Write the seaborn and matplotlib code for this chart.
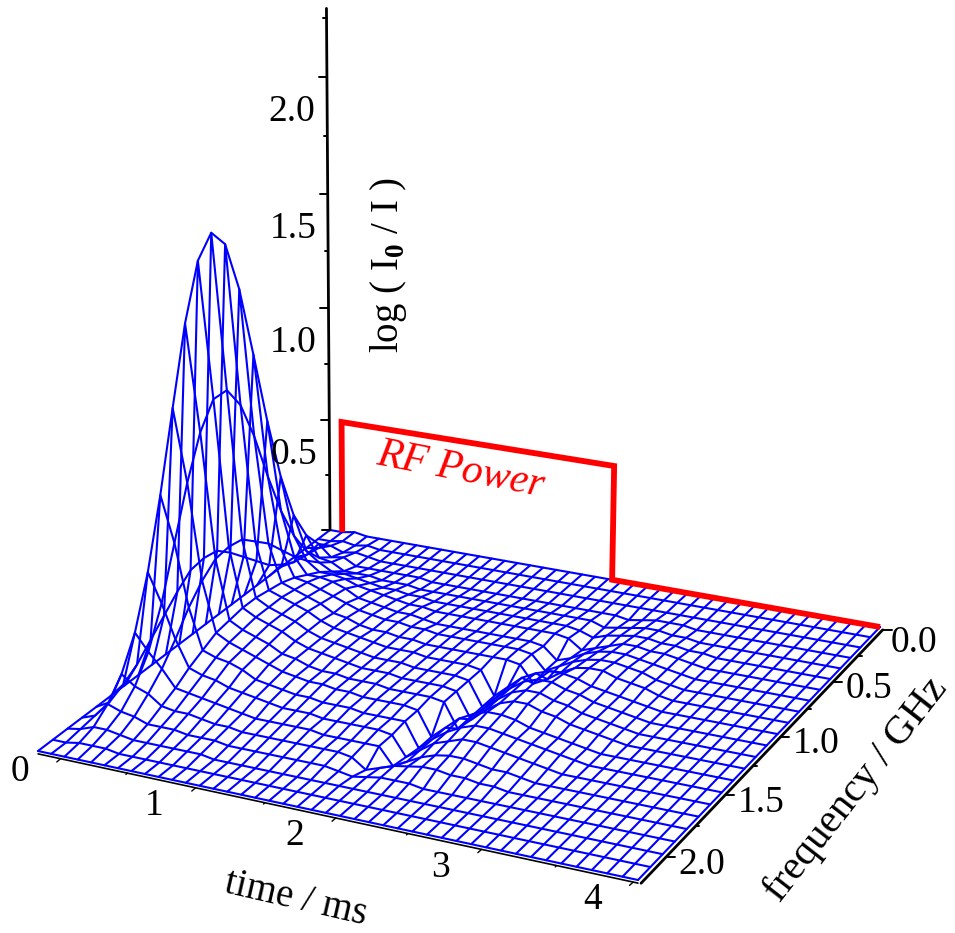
import numpy as np
import pandas as pd
import seaborn as sns
import matplotlib.pyplot as plt

# Data
times = [-0.17, -0.07, 0.03, 0.13, 0.23, 0.33, 0.43, 0.53, 0.63, 0.73, 0.83, 0.93, 1.03, 1.13,
         1.23, 1.33, 1.43, 1.53, 1.63, 1.73, 1.83, 1.93, 2.03, 2.13, 2.23, 2.33, 2.43, 2.53,
         2.63, 2.73, 2.83, 2.93, 3.03, 3.13, 3.23, 3.33, 3.43, 3.53, 3.63, 3.73, 3.83, 3.93, 4.03]
freqs = [0.0, 0.1, 0.2, 0.3, 0.4, 0.5, 0.6, 0.7, 0.8, 0.9, 1.0, 1.1,
         1.2, 1.3, 1.4, 1.5, 1.6, 1.7, 1.8, 1.9, 2.0, 2.1, 2.2]

# log(I0/I), one row per frequency, one column per time
absorbance = [
    [0, 0, .01, 0, 0, 0, 0, 0, 0, 0, 0, 0, 0, 0,
     0, 0, 0, 0, 0, 0, 0, 0, 0, 0, 0, 0, 0, 0, 0, 0, 0, 0, 0, 0, 0, 0, 0, 0, 0, 0, 0, 0, 0],
    [0, 0, .01, 0, .01, 0, 0, 0, 0, 0, 0, 0, 0, 0,
     0, 0, 0, 0, 0, 0, 0, 0, 0, 0, 0, 0, 0, 0, 0, 0, 0, 0, 0, 0, 0, 0, 0, 0, 0, 0, 0, 0, 0],
    [0, .01, .03, .01, .02, .01, 0, 0, 0, 0, 0, 0, 0, 0,
     0, 0, 0, 0, 0, 0, 0, 0, 0, 0, 0, 0, 0, 0, 0, 0, 0, 0, 0, 0, 0, 0, 0, 0, 0, 0, 0, 0, 0],
    [0, .02, .08, .03, .04, .01, .01, .01, .01, .01, .01, 0, 0, 0,
     0, 0, 0, 0, 0, 0, 0, 0, 0, 0, 0, 0, -.01, 0, .01, .01, .01, 0, 0, 0, 0, 0, 0, 0, 0, 0, 0, 0, 0],
    [0, .03, .16, .07, .06, .03, .03, .03, .02, .02, .02, .01, .01, .01,
     .01, .01, .01, .01, .01, .01, .01, .01, .01, .01, .01, -.01, 0, .01, .02, .02, .01, .01, 0, 0, 0, 0, 0, 0, 0, 0, 0, 0, 0],
    [0, .06, .29, .14, .10, .07, .07, .06, .05, .04, .04, .03, .03, .02,
     .02, .02, .02, .02, .02, .02, .02, .02, .02, .02, .01, -.01, .01, .02, .03, .03, .02, .02, .01, .01, 0, 0, 0, 0, 0, 0, 0, 0, 0],
    [0, .10, .50, .25, .15, .11, .11, .10, .08, .07, .06, .05, .04, .04,
     .03, .03, .03, .03, .03, .03, .03, .03, .03, .03, .02, -.02, 0, .02, .04, .04, .03, .03, .02, .01, 0, 0, 0, 0, 0, 0, 0, 0, 0],
    [0, .16, .78, .40, .21, .14, .14, .13, .11, .08, .07, .06, .05, .05,
     .04, .03, .03, .03, .03, .03, .03, .03, .03, .02, -.03, -.01, .02, .04, .05, .05, .04, .03, .02, .01, 0, 0, 0, 0, 0, 0, 0, 0, 0],
    [0, .22, 1.10, .59, .28, .17, .16, .14, .12, .10, .08, .07, .06, .06,
     .05, .05, .04, .04, .04, .04, .04, .04, .04, .03, -.03, 0, .03, .05, .06, .06, .05, .04, .02, .01, 0, 0, 0, 0, 0, 0, 0, 0, 0],
    [0, .28, 1.41, .80, .35, .19, .17, .15, .13, .10, .09, .07, .06, .06,
     .05, .05, .04, .04, .04, .04, .04, .04, .04, .03, -.04, -.01, .03, .06, .07, .07, .05, .04, .03, .01, 0, 0, 0, 0, 0, 0, 0, 0, 0],
    [0, .33, 1.63, .97, .40, .20, .18, .16, .14, .11, .09, .08, .07, .06,
     .05, .05, .05, .04, .04, .04, .04, .03, -.07, -.02, .03, .06, .08, .08, .07, .05, .04, .03, .02, .01, 0, 0, 0, 0, 0, 0, 0, 0, 0],
    [0, .34, 1.71, 1.07, .45, .21, .18, .16, .14, .11, .09, .08, .07, .06,
     .05, .05, .05, .04, .04, .04, .04, .03, -.07, -.02, .03, .07, .09, .09, .07, .06, .04, .03, .02, .01, 0, 0, 0, 0, 0, 0, 0, 0, 0],
    [0, .33, 1.63, 1.07, .46, .21, .18, .16, .14, .11, .09, .08, .07, .06,
     .05, .05, .05, .04, .04, .04, .04, .03, -.07, -.02, .03, .07, .09, .09, .07, .06, .04, .03, .02, .01, 0, 0, 0, 0, 0, 0, 0, 0, 0],
    [0, .28, 1.41, .97, .45, .20, .17, .15, .13, .10, .09, .07, .06, .06,
     .05, .05, .05, .04, .04, .04, .04, .03, -.07, -.02, .03, .07, .09, .09, .07, .06, .04, .03, .02, .01, 0, 0, 0, 0, 0, 0, 0, 0, 0],
    [0, .22, 1.10, .80, .40, .19, .16, .14, .12, .10, .08, .07, .06, .06,
     .05, .05, .04, .04, .04, .04, .03, -.07, -.02, .03, .06, .08, .08, .07, .05, .04, .03, .02, .01, 0, 0, 0, 0, 0, 0, 0, 0, 0, 0],
    [0, .16, .78, .59, .33, .16, .14, .13, .11, .08, .07, .06, .05, .05,
     .04, .04, .04, .03, .03, .03, .03, -.07, -.02, .02, .05, .07, .07, .06, .05, .04, .03, .02, .01, 0, 0, 0, 0, 0, 0, 0, 0, 0, 0],
    [0, .10, .50, .38, .24, .13, .11, .10, .08, .07, .06, .05, .04, .04,
     .04, .03, .03, .03, .03, .03, .02, -.06, -.02, .02, .04, .06, .06, .05, .04, .03, .02, .01, 0, 0, 0, 0, 0, 0, 0, 0, 0, 0, 0],
    [0, .06, .29, .22, .16, .09, .08, .07, .06, .05, .04, .03, .03, .03,
     .03, .03, .02, .02, .02, .02, .02, -.05, -.02, .01, .03, .04, .04, .03, .02, .02, .01, 0, 0, 0, 0, 0, 0, 0, 0, 0, 0, 0, 0],
    [0, .03, .16, .12, .10, .06, .05, .05, .04, .03, .03, .02, .02, .02,
     .02, .02, .02, .02, .02, .01, -.03, -.01, .01, .02, .03, .03, .02, .02, .01, .01, 0, 0, 0, 0, 0, 0, 0, 0, 0, 0, 0, 0, 0],
    [0, .02, .08, .06, .05, .03, .03, .03, .02, .02, .02, .01, .01, .01,
     .01, .01, .01, .01, .01, 0, -.01, 0, .01, .01, .01, 0, 0, 0, 0, 0, 0, 0, 0, 0, 0, 0, 0, 0, 0, 0, 0, 0, 0],
    [0, .01, .03, .03, .02, .01, .01, .01, .01, .01, .01, 0, 0, 0,
     0, 0, 0, 0, 0, 0, 0, 0, 0, 0, 0, 0, 0, 0, 0, 0, 0, 0, 0, 0, 0, 0, 0, 0, 0, 0, 0, 0, 0],
    [0, 0, .01, .01, .01, 0, 0, 0, 0, 0, 0, 0, 0, 0,
     0, 0, 0, 0, 0, 0, 0, 0, 0, 0, 0, 0, 0, 0, 0, 0, 0, 0, 0, 0, 0, 0, 0, 0, 0, 0, 0, 0, 0],
    [0, 0, 0, 0, 0, 0, 0, 0, 0, 0, 0, 0, 0, 0,
     0, 0, 0, 0, 0, 0, 0, 0, 0, 0, 0, 0, 0, 0, 0, 0, 0, 0, 0, 0, 0, 0, 0, 0, 0, 0, 0, 0, 0],
]

# RF power trace, drawn on the back edge of the surface
rf_time = [-0.07, -0.07, 2.06, 2.06, 4.03]
rf_level = [0.0, 0.5, 0.5, 0.0, 0.0]

time_ticks = [0, 1, 2, 3, 4]
time_minor = [0.5, 1.5, 2.5, 3.5]
freq_ticks = [0.0, 0.5, 1.0, 1.5, 2.0]
freq_minor = [0.25, 0.75, 1.25, 1.75]
z_ticks = [0.0, 0.5, 1.0, 1.5, 2.0]
z_minor = [0.25, 0.75, 1.25, 1.75, 2.25]

times = np.array(times)
freqs = np.array(freqs)
Z = np.array(absorbance, dtype=float)

# Perspective view: where the floor corners and the top of the z axis land, in pixels
floor_data = [(-0.17, 0.0), (4.03, 0.0), (4.03, 2.2), (-0.17, 2.2)]
floor_px = [(330, 530), (880, 627), (638, 880), (38, 751)]
A, b = [], []
for (t, f), (px, py) in zip(floor_data, floor_px):
    A.append([t, f, 1, 0, 0, 0, -px * t, -px * f])
    A.append([0, 0, 0, t, f, 1, -py * t, -py * f])
    b += [px, py]
H = np.append(np.linalg.solve(np.array(A, float), np.array(b, float)), 1).reshape(3, 3)
w0 = H[2] @ [-0.17, 0.0, 1]
z_w = -0.019 * w0
z_col = np.array([w0 * (329 * 0.962 - 332) / 2, w0 * (75 * 0.962 - 528) / 2, z_w])


def project(t, f, z):
    t, f, z = np.broadcast_arrays(np.asarray(t, float), np.asarray(f, float), np.asarray(z, float))
    h = np.stack([t, f, np.ones_like(t)])
    out = H @ h.reshape(3, -1) + np.outer(z_col, z.ravel())
    return (out[0] / out[2]).reshape(t.shape), (out[1] / out[2]).reshape(t.shape)


# One row per mesh vertex, grouped into the mesh lines
T, F = np.meshgrid(times, freqs)
PX, PY = project(T, F, Z)
rows = []
for i in range(len(freqs)):
    rows.append(pd.DataFrame({'px': PX[i], 'py': PY[i], 'line': f'f{i}'}))
for j in range(len(times)):
    rows.append(pd.DataFrame({'px': PX[:, j], 'py': PY[:, j], 'line': f't{j}'}))
mesh = pd.concat(rows, ignore_index=True)

sns.set_theme(style='white')
plt.rcParams['font.family'] = ['Liberation Serif', 'DejaVu Serif']
plt.rcParams['text.color'] = 'black'
plt.rcParams['mathtext.fontset'] = 'custom'
plt.rcParams['mathtext.rm'] = 'Liberation Serif'
plt.rcParams['mathtext.bf'] = 'Liberation Serif:bold'

fig = plt.figure(figsize=(9.55, 9.33), dpi=100)
ax = fig.add_axes([0, 0, 1, 1])

# Mesh
sns.lineplot(data=mesh, x='px', y='py', units='line', estimator=None, sort=False,
             color='#0000FF', linewidth=1.5, legend=False, ax=ax)

# Axes lines
t_ends = [times[0], times[-1]]
f_ends = [freqs[0], freqs[-1]]
x, y = project(t_ends, f_ends[1], -0.012)
ax.plot(x, y, color='black', lw=1.2)
x, y = project(times[-1] + 0.02, f_ends, -0.01)
ax.plot(x, y, color='black', lw=2.0)
x, y = project(times[0], 0.0, [0.0, 2.29])
ax.plot(x, y, color='black', lw=2.0)

# Ticks and tick labels
for v, major in [(v, True) for v in z_ticks] + [(v, False) for v in z_minor]:
    x, y = project(times[0], 0.0, v)
    ax.plot([x, x - (8 if major else 3.5)], [y, y], color='black', lw=1.4)
    if major and v > 0:
        ax.text(x - 35, y + 35, f'{v:.1f}', fontsize=27, ha='center', va='center')

for v, major in [(v, True) for v in time_ticks] + [(v, False) for v in time_minor]:
    x, y = project(v, freqs[-1], -0.012)
    ln = 5 if major else 2
    ax.plot([x, x - ln * 0.75], [y, y + ln * 0.65], color='black', lw=1.0)
    if major:
        ax.text(x - 41, y + (13 if v == 0 else 18), f'{v}', fontsize=27, ha='center', va='center')

for v, major in [(v, True) for v in freq_ticks] + [(v, False) for v in freq_minor]:
    x, y = project(times[-1] + 0.02, v, -0.01)
    ax.plot([x, x + (9 if major else 3.5)], [y, y], color='black', lw=1.4)
    if major:
        off = (31, 13) if v == 0 else (36, 7)
        ax.text(x + off[0], y + off[1], f'{v:.1f}', fontsize=27, ha='center', va='center')

# RF power
x, y = project(rf_time, 0.0, rf_level)
ax.plot(x, y, color='#FF0000', lw=4.2, solid_joinstyle='miter', solid_capstyle='butt')
ax.text(461, 470, 'RF Power', fontsize=30, style='italic', color='#FF0000',
        rotation=-11, ha='center', va='center', rotation_mode='anchor')

# Axis titles
ax.text(296, 899, 'time / ms', fontsize=28, rotation=-13, ha='center', va='center', rotation_mode='anchor')
ax.text(856, 790, 'frequency / GHz', fontsize=29.5, rotation=52, ha='center', va='center', rotation_mode='anchor')
ax.text(388, 265, r'log ( I$_{\mathbf{0}}$ / I )', fontsize=28, rotation=90, ha='center', va='center')

ax.set_xlim(0, 955)
ax.set_ylim(933, 0)
ax.axis('off')

plt.savefig('out.png', dpi=100)
